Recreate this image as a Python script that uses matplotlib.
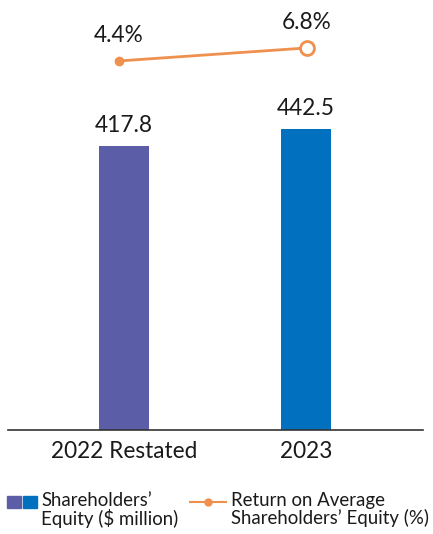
#!/usr/bin/env python3

import matplotlib
matplotlib.use("Agg")
import matplotlib.pyplot as plt
from matplotlib.patches import Rectangle
from matplotlib.lines import Line2D


categories = ["2022 Restated", "2023"]
equity = [417.8, 442.5]
roe = [4.4, 6.8]
bar_colors = ["#5B5EA6", "#0070BF"]
line_color = "#F0904F"

W, H = 433, 534


def fx(px):
    return px / W


def fy(py):
    return (H - py) / H


def main() -> None:
    plt.rcParams["font.family"] = ["Lato", "DejaVu Sans"]
    fig = plt.figure(figsize=(W / 100, H / 100), dpi=100)

    # axes: x 8..423 px, y 10..430 px (from top)
    ax = fig.add_axes([fx(8), fy(430), fx(423) - fx(8), fy(10) - fy(430)])
    x = [0, 1]
    ax.bar(x, equity, width=0.275, color=bar_colors)
    ax.set_xlim(-0.637, 1.643)
    ax.set_ylim(0, 617.6)
    for xi, v in zip(x, equity):
        ax.text(xi, v + 15, f"{v:.1f}", ha="center", va="bottom", fontsize=16.3, color="#1a1a1a")

    ax.set_xticks(x)
    ax.set_xticklabels(categories, fontsize=16.3, color="#1a1a1a")
    ax.tick_params(axis="x", length=0, pad=8)
    ax.set_yticks([])
    for s in ["top", "left", "right"]:
        ax.spines[s].set_visible(False)
    ax.spines["bottom"].set_color("#333333")
    ax.spines["bottom"].set_linewidth(1.2)

    ax2 = ax.twinx()
    ax2.set_ylim(-63.7, 13.8)
    ax2.axis("off")
    lx = [-0.027, 1.005]
    ax2.plot(lx, roe, color=line_color, linewidth=2, zorder=3)
    ax2.plot(lx[0], roe[0], "o", color=line_color, markersize=6, zorder=4)
    ax2.plot(lx[1], roe[1], "o", markerfacecolor="white", markeredgecolor=line_color,
             markeredgewidth=2, markersize=10, zorder=4)
    for xi, v in zip(lx, roe):
        ax2.text(xi, v + 2.8, f"{v:.1f}%", ha="center", va="bottom", fontsize=16.3, color="#1a1a1a")

    # legend
    fig.add_artist(Rectangle((fx(7), fy(508)), fx(14), fy(496) - fy(508), color=bar_colors[0],
                             transform=fig.transFigure))
    fig.add_artist(Rectangle((fx(23), fy(508)), fx(14), fy(496) - fy(508), color=bar_colors[1],
                             transform=fig.transFigure))
    fig.text(fx(41), fy(492), "Shareholders\u2019\nEquity ($ million)", fontsize=13.4,
             va="top", ha="left", color="#1a1a1a", linespacing=0.98,
             transform=fig.transFigure)
    fig.add_artist(Line2D([fx(190), fx(226)], [fy(502), fy(502)], color=line_color, linewidth=1.5,
                          transform=fig.transFigure))
    fig.add_artist(Line2D([fx(208)], [fy(502)], marker="o", color=line_color, markersize=5,
                          transform=fig.transFigure))
    fig.text(fx(231), fy(492), "Return on Average\nShareholders\u2019 Equity (%)", fontsize=13.4,
             va="top", ha="left", color="#1a1a1a", linespacing=0.98,
             transform=fig.transFigure)

    fig.savefig("out.png", dpi=100)


if __name__ == "__main__":
    main()
